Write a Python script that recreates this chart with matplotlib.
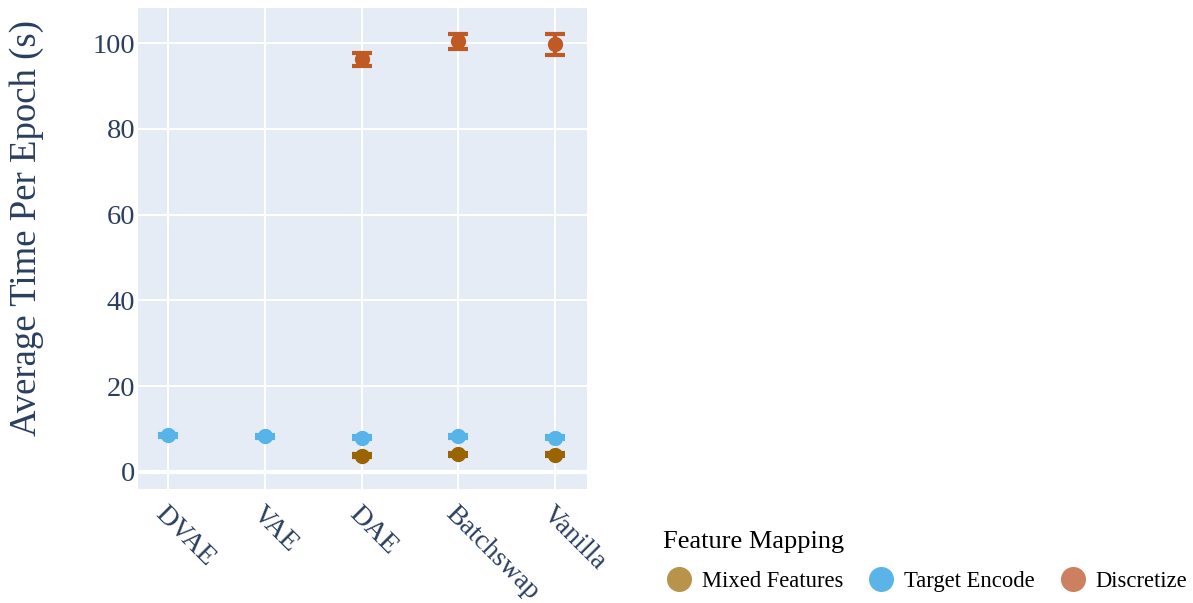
import matplotlib
matplotlib.use("Agg")
import matplotlib.pyplot as plt
from matplotlib.lines import Line2D

models = ["DVAE", "VAE", "DAE", "Batchswap", "Vanilla"]

# Average time per epoch (s) and error for each feature mapping
mixed_models = ["DAE", "Batchswap", "Vanilla"]
mixed_mean = [3.8, 4.1, 4.0]
mixed_err = [0.3, 0.3, 0.3]

target_models = ["DVAE", "VAE", "DAE", "Batchswap", "Vanilla"]
target_mean = [8.5, 8.3, 8.0, 8.3, 8.0]
target_err = [0.3, 0.3, 0.3, 0.3, 0.3]

disc_models = ["DAE", "Batchswap", "Vanilla"]
disc_mean = [96.2, 100.4, 99.7]
disc_err = [1.5, 1.8, 2.5]

series = [
    ("Mixed Features", mixed_models, mixed_mean, mixed_err, "#9a6402", "#b8934a"),
    ("Target Encode", target_models, target_mean, target_err, "#56b4e9", "#5ab4e8"),
    ("Discretize", disc_models, disc_mean, disc_err, "#c05a24", "#cc8060"),
]

plt.rcParams["font.family"] = ["Liberation Serif", "DejaVu Serif"]

fig = plt.figure(figsize=(11.93, 6.03), dpi=100)
ax = fig.add_axes([138 / 1193, 1 - 489 / 603, 449 / 1193, 481 / 603])
ax.set_facecolor("#e5ecf6")

for name, cats, mean, err, col, _ in series:
    xs = [models.index(c) for c in cats]
    ax.errorbar(xs, mean, yerr=err, fmt="o", color=col, ecolor=col,
                markersize=10, elinewidth=3, capsize=7, capthick=3, zorder=3)

ax.set_xlim(-0.31, 4.33)
ax.set_ylim(-4, 108.2)
ax.set_xticks(range(len(models)))
ax.set_xticklabels(models, rotation=-45, ha="left", va="top",
                   rotation_mode="anchor")
ax.set_yticks([0, 20, 40, 60, 80, 100])
ax.tick_params(axis="both", length=0, labelsize=20.5, colors="#2a3f5f", pad=2)
ax.tick_params(axis="x", pad=9, labelsize=20)
ax.grid(True, color="white", linewidth=1.5, zorder=0)
ax.axhline(0, color="white", linewidth=3, zorder=1)
ax.set_axisbelow(True)
for s in ax.spines.values():
    s.set_visible(False)
ax.set_ylabel("Average Time Per Epoch (s)", fontsize=26.5, color="#2a3f5f")
ax.yaxis.set_label_coords(-0.21, 0.543)

handles = [Line2D([], [], marker="o", linestyle="none", markersize=17,
                  markerfacecolor=lc, markeredgecolor=lc, label=name)
           for name, _, _, _, _, lc in series]
leg = fig.legend(handles=handles, loc="upper left", bbox_to_anchor=(654 / 1193, 1 - 522 / 603),
                 ncol=3, frameon=False, fontsize=16.3, title="Feature Mapping",
                 title_fontsize=19, handletextpad=0.3, columnspacing=1.0,
                 borderaxespad=0, handlelength=1.4, labelspacing=0.3)
leg._legend_box.align = "left"
leg._legend_box.sep = 13

fig.savefig("out.png", dpi=100)
